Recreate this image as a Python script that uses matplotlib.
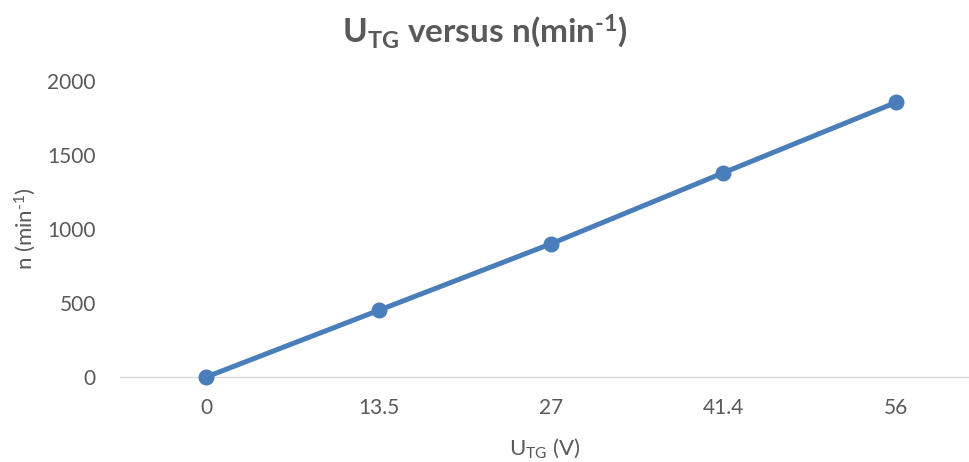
import matplotlib.pyplot as plt

plt.rcParams['font.family'] = ['Lato', 'DejaVu Sans']
plt.rcParams['mathtext.default'] = 'regular'

# data
u_tg = ["0", "13.5", "27", "41.4", "56"]
n_rpm = [0, 450, 900, 1380, 1855]

grey = "#595959"
blue = "#4A7EBB"
hy = "\u2010"  # plain hyphen, mathtext would turn "-" into a minus sign

fig = plt.figure(figsize=(9.7, 4.62), dpi=100)
ax = fig.add_axes([120 / 970, 1 - 377 / 462, 850 / 970, 296 / 462])

xs = list(range(len(u_tg)))
ax.plot(xs, n_rpm, color=blue, linewidth=3.6, marker="o", markersize=10.5,
        solid_capstyle="round", clip_on=False, zorder=3)

ax.set_xlim(-0.5, 4.43)
ax.set_ylim(0, 2000)
ax.set_xticks(xs)
ax.set_xticklabels(u_tg)
ax.set_yticks([0, 500, 1000, 1500, 2000])

for s in ["top", "right", "left"]:
    ax.spines[s].set_visible(False)
ax.spines["bottom"].set_color("#D9D9D9")
ax.spines["bottom"].set_linewidth(1.0)

ax.tick_params(axis="both", length=0, labelsize=15, labelcolor=grey)
ax.tick_params(axis="y", pad=17.5)
ax.tick_params(axis="x", pad=15)

ax.set_xlabel("U$_{TG}$ (V)", fontsize=16, color=grey)
ax.xaxis.label.set_va("center")
ax.xaxis.set_label_coords(0.5, (377 - 448) / 296)
ax.set_ylabel(f"n (min$^{{{hy}1}}$)", fontsize=16, color=grey)
ax.yaxis.label.set_va("center")
ax.yaxis.set_label_coords((25 - 120) / 850, 0.5)

fig.text(0.5, 1 - 31 / 462, f"U$_{{TG}}$ versus n(min$^{{{hy}1}}$)", ha="center", va="center",
         fontsize=24, fontweight="bold", color=grey)

fig.savefig("out.png", dpi=100)
